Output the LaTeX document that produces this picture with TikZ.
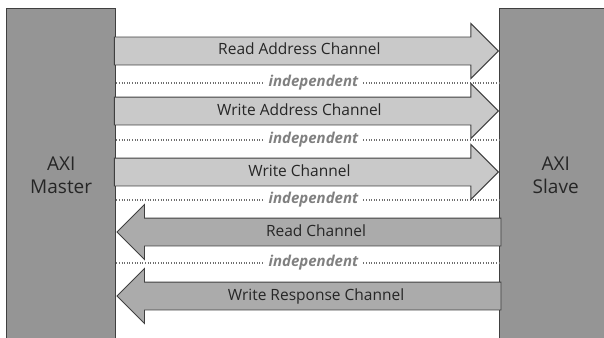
\documentclass[tikz,border=0pt]{standalone}
\usepackage{fontspec}
\setmainfont{Open Sans}
\usetikzlibrary{shapes.arrows}
\definecolor{boxgray}{HTML}{959595}
\definecolor{fwdgray}{HTML}{C9C9C9}
\definecolor{backgray}{HTML}{ABABAB}
\definecolor{edgegray}{HTML}{404040}
\definecolor{dotgray}{HTML}{6E6E6E}
\definecolor{labelgray}{HTML}{808080}
\begin{document}
\begin{tikzpicture}[x=1pt,y=-1pt,
  unit/.style={draw=edgegray, line width=1.4pt, fill=boxgray, anchor=north west,
    minimum width=109pt, minimum height=334pt, align=center, inner sep=0pt,
    font=\fontsize{19}{23}\selectfont, text=black!85},
  chan/.style={single arrow, draw=edgegray, line width=0.9pt,
    minimum height=384pt, single arrow head extend=13.5pt,
    text height=11pt, text depth=3pt, inner ysep=6.5pt, inner xsep=0pt,
    font=\fontsize{15.5}{18}\selectfont, text=black!85},
  fwd/.style={chan, fill=fwdgray},
  back/.style={chan, fill=backgray, shape border rotate=180},
  dotline/.style={draw=dotgray, line width=1.1pt, dash pattern=on 1pt off 1.6pt},
  indep/.style={fill=white, inner xsep=4pt, inner ysep=1pt,
    font=\fontsize{15}{17}\selectfont\itshape\bfseries, text=labelgray}
]
\useasboundingbox (0,0) rectangle (604,337);

% Master and slave blocks
\node[unit] (master) at (6,8) {AXI\\Master};
\node[unit, minimum width=112pt] (slave) at (499,8) {AXI\\Slave};

% Separators between channels
\draw[dotline] (master.east |- 0,83) -- (slave.west |- 0,83)
  node[indep, pos=0.515] (i1) {independent};
\draw[dotline] (master.east |- 0,140) -- (slave.west |- 0,140)
  node[indep, pos=0.515] (i2) {independent};
\draw[dotline] (master.east |- 0,200) -- (slave.west |- 0,200)
  node[indep, pos=0.515] (i3) {independent};
\draw[dotline] (master.east |- 0,263) -- (slave.west |- 0,263)
  node[indep, pos=0.515] (i4) {independent};

% Master -> slave channels
\node[fwd, anchor=tip] (rac) at (slave.west |- 0,51) {Read Address Channel};
\node[fwd, anchor=tip] (wac) at (slave.west |- 0,111) {Write Address Channel};
\node[fwd, anchor=tip] (wc)  at (slave.west |- 0,172) {Write Channel};

% Slave -> master channels
\node[back, anchor=tip] (rc)  at (master.east |- 0,232) {Read Channel};
\node[back, anchor=tip] (wrc) at (master.east |- 0,296) {Write Response Channel};
\end{tikzpicture}
\end{document}
